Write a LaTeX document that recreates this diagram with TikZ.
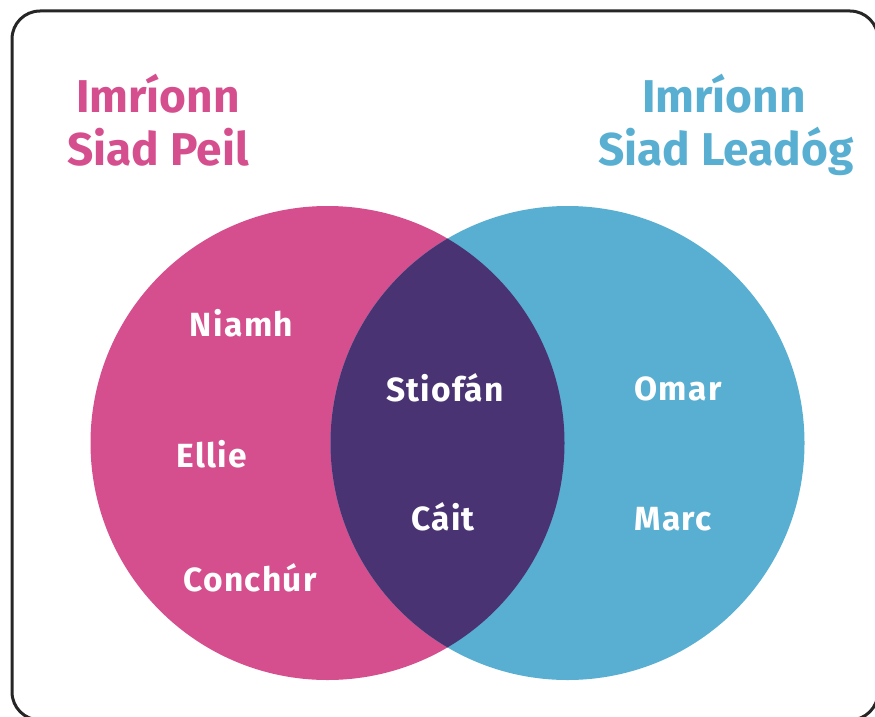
\documentclass[tikz,border=0pt]{standalone}
\usepackage{fontspec}
\setmainfont{Fira Sans}
\newfontfamily\namefont[LetterSpace=4]{Fira Sans}
\definecolor{pinkc}{HTML}{D54F8E}
\definecolor{bluec}{HTML}{59AFD1}
\definecolor{purpc}{HTML}{4A3373}
\begin{document}
\begin{tikzpicture}[x=1pt,y=-1pt,
  personlabel/.style={text=white,font=\namefont\fontsize{33.5}{33.5}\selectfont\bfseries,anchor=base,inner sep=0pt},
  ptitle/.style={text=pinkc,font=\fontsize{46}{46}\selectfont\bfseries,anchor=base,inner sep=0pt},
  btitle/.style={text=bluec,font=\fontsize{46}{46}\selectfont\bfseries,anchor=base,inner sep=0pt}]
\useasboundingbox (0,0) rectangle (875,717);
\draw[line width=3pt,rounded corners=28pt,color=black!85] (12,11) rectangle (878,720);
\fill[pinkc] (327.5,443) circle[radius=237];
\fill[bluec] (567.5,443) circle[radius=237];
\begin{scope}
\clip (327.5,443) circle[radius=237];
\fill[purpc] (567.5,443) circle[radius=237];
\end{scope}
\node[ptitle] (p1) at (158,112) {Imríonn};
\node[ptitle] (p2) at (158,165) {Siad Peil};
\node[btitle] (b1) at (724,112) {Imríonn};
\node[btitle] (b2) at (726,165) {Siad Leadóg};
\node[personlabel] (niamh) at (241.5,336) {Niamh};
\node[personlabel] (ellie) at (212,467) {Ellie};
\node[personlabel] (conchur) at (250,591) {Conchúr};
\node[personlabel] (stiofan) at (445,401) {Stiofán};
\node[personlabel] (cait) at (443,530) {Cáit};
\node[personlabel] (omar) at (678,400) {Omar};
\node[personlabel] (marc) at (673,530) {Marc};
\end{tikzpicture}
\end{document}
